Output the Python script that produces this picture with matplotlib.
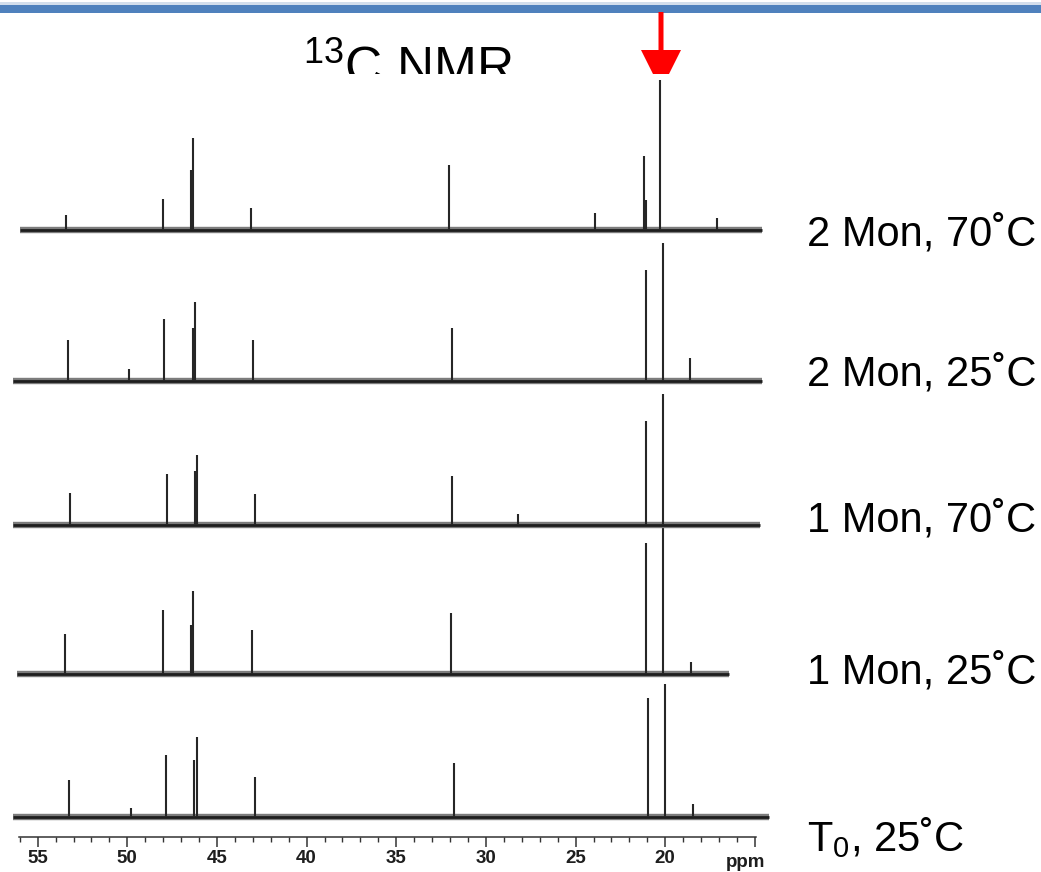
#!/usr/bin/env python3

import numpy as np
import matplotlib
matplotlib.use('Agg')
import matplotlib.pyplot as plt
from matplotlib.ticker import FixedLocator

plt.rcParams['font.family'] = ['Liberation Sans', 'DejaVu Sans']
plt.rcParams['mathtext.fontset'] = 'custom'
plt.rcParams['mathtext.rm'] = 'Liberation Sans'
plt.rcParams['mathtext.it'] = 'Liberation Sans:italic'

# spectra, bottom to top: peak shifts (ppm), peak heights, recorded range
labels = ['T$_0$, 25˚C', '1 Mon, 25˚C', '1 Mon, 70˚C', '2 Mon, 25˚C', '2 Mon, 70˚C']

t0_ppm = [53.27, 49.80, 47.82, 46.27, 46.13, 42.88, 31.80, 20.95, 20.00, 18.44]
t0_int = [37, 9, 62, 57, 80, 40, 54, 119, 133, 13]

m1_25_ppm = [53.48, 48.03, 46.45, 46.32, 43.07, 31.97, 21.06, 20.11, 18.55]
m1_25_int = [40, 64, 49, 83, 44, 61, 131, 153, 12]

m1_70_ppm = [53.22, 47.80, 46.23, 46.13, 42.90, 31.90, 28.20, 21.08, 20.13]
m1_70_int = [32, 51, 54, 70, 31, 49, 11, 104, 131]

m2_25_ppm = [53.33, 49.90, 47.94, 46.36, 46.23, 42.98, 31.90, 21.10, 20.13, 18.60]
m2_25_int = [41, 12, 62, 53, 79, 41, 53, 111, 138, 23]

m2_70_ppm = [53.40, 48.03, 46.45, 46.36, 43.09, 32.06, 23.90, 21.20, 21.10, 20.28, 17.10]
m2_70_int = [15, 31, 60, 92, 22, 65, 17, 74, 30, 150, 12]

ranges = [(56.38, 14.21), (56.15, 16.44), (56.38, 14.71), (56.38, 14.60), (55.99, 14.60)]

spectra = [(t0_ppm, t0_int), (m1_25_ppm, m1_25_int), (m1_70_ppm, m1_70_int),
           (m2_25_ppm, m2_25_int), (m2_70_ppm, m2_70_int)]

major_ticks = [55, 50, 45, 40, 35, 30, 25, 20, 15]
major_labels = ['55', '50', '45', '40', '35', '30', '25', '20', '']
minor_ticks = list(range(56, 14, -1))

# stacking offsets and where the labels sit (slide pixels)
offsets = [55, 198, 347, 491, 642]
label_y = [851, 683, 531, 385, 245]

fig = plt.figure(figsize=(10.41, 8.72), dpi=100)

# slide layer: header bar, title, arrow, labels
bg = fig.add_axes([0, 0, 1, 1])
bg.set_xlim(0, 1041)
bg.set_ylim(872, 0)
bg.axis('off')
bg.axhspan(2.5, 5, color='#d3deec', lw=0)
bg.axhspan(5, 13, color='#4F81BD', lw=0)
bg.text(408, 83, '$^{13}$C NMR', fontsize=37, ha='center', va='baseline')
bg.arrow(661, 12, 0, 78, width=5, head_width=40, head_length=40,
         length_includes_head=True, fc='#FF0000', ec='none')
for lab, y in zip(labels, label_y):
    bg.text(807, y, lab, fontsize=30, ha='left', va='baseline')

# scanned spectrum layer
ax = fig.add_axes([0, 0, 780 / 1041, 798 / 872])
ax.set_zorder(1)
ax.set_facecolor('white')
ax.set_xlim(57.10, 13.60)
ax.set_ylim(0, 798)

for (ppm, inten), off, (lo, hi) in zip(spectra, offsets, ranges):
    ax.plot([lo, hi], [off, off], color='#7c7c7c', lw=4.6, solid_capstyle='butt')
    ax.plot([lo, hi], [off, off], color='#1e1e1e', lw=2.0, solid_capstyle='butt')
    ax.vlines(ppm, off, np.array(inten) + off, color='#262626', lw=1.5)

for side in ['top', 'left', 'right']:
    ax.spines[side].set_visible(False)
ax.spines['bottom'].set_position(('data', 35))
ax.spines['bottom'].set_bounds(56.05, 14.95)
ax.spines['bottom'].set_color('#333333')
ax.spines['bottom'].set_linewidth(1.1)
ax.yaxis.set_visible(False)
ax.xaxis.set_major_locator(FixedLocator(major_ticks))
ax.set_xticklabels(major_labels)
ax.xaxis.set_minor_locator(FixedLocator(minor_ticks))
ax.tick_params(axis='x', which='major', length=7.2, width=1.1, color='#333333',
               pad=2.0, labelsize=13.5, labelcolor='#1e1e1e')
ax.tick_params(axis='x', which='minor', length=3.6, width=1.0, color='#333333')
for t in ax.get_xticklabels():
    t.set_fontweight('bold')
ax.text(15.55, 10, 'ppm', fontsize=13.5, fontweight='bold', color='#1e1e1e',
        ha='center', va='center')

plt.savefig('out.png', dpi=100)
